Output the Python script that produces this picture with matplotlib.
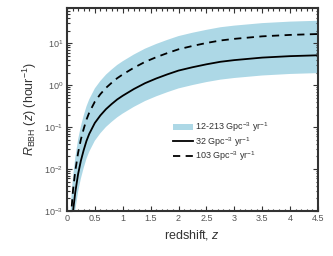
import numpy as np
import matplotlib
matplotlib.use("Agg")
import matplotlib.pyplot as plt
from matplotlib.ticker import LogLocator, MultipleLocator, NullFormatter

plt.rcParams['font.family'] = ['Liberation Sans', 'DejaVu Sans']
plt.rcParams['mathtext.fontset'] = 'custom'
plt.rcParams['mathtext.rm'] = 'Liberation Sans'
plt.rcParams['mathtext.it'] = 'Liberation Sans:italic'

# redshift samples and merger rates (hour^-1)
z = [0.05, 0.08, 0.11, 0.15, 0.2, 0.25, 0.3, 0.35, 0.4, 0.5, 0.6, 0.7, 0.8, 0.9,
     1.0, 1.2, 1.4, 1.6, 1.8, 2.0, 2.25, 2.5, 2.75, 3.0, 3.5, 4.0, 4.5]
rate_32 = [5.0e-5, 3.16e-4, 1.0e-3, 2.82e-3, 7.59e-3, 1.58e-2, 2.82e-2, 4.68e-2, 6.92e-2,
           0.126, 0.191, 0.269, 0.355, 0.457, 0.562, 0.813, 1.12, 1.45, 1.82, 2.24,
           2.69, 3.16, 3.63, 3.98, 4.57, 4.95, 5.19]
rate_103 = [1.6e-4, 1.02e-3, 3.22e-3, 9.08e-3, 2.44e-2, 5.09e-2, 9.08e-2, 0.151, 0.223,
            0.406, 0.615, 0.866, 1.14, 1.47, 1.81, 2.62, 3.61, 4.67, 5.86, 7.21,
            8.66, 10.2, 11.7, 12.8, 14.7, 15.9, 16.7]
rate_213 = [3.3e-4, 2.1e-3, 6.66e-3, 1.88e-2, 5.05e-2, 0.105, 0.188, 0.312, 0.461,
            0.839, 1.27, 1.79, 2.36, 3.04, 3.74, 5.41, 7.46, 9.66, 12.1, 14.9,
            17.9, 21.0, 24.2, 26.5, 30.4, 33.0, 34.6]
rate_12 = [1.9e-5, 1.19e-4, 3.75e-4, 1.06e-3, 2.85e-3, 5.93e-3, 1.06e-2, 1.76e-2, 2.6e-2,
           4.73e-2, 7.16e-2, 0.101, 0.133, 0.171, 0.211, 0.305, 0.42, 0.544, 0.683, 0.84,
           1.01, 1.19, 1.36, 1.49, 1.71, 1.86, 1.95]

labels = ['12-213 Gpc$^{-3}$ yr$^{-1}$', '32 Gpc$^{-3}$ yr$^{-1}$', '103 Gpc$^{-3}$ yr$^{-1}$']
xticklabels = ['0', '0.5', '1', '1.5', '2', '2.5', '3', '3.5', '4', '4.5']

fig = plt.figure(figsize=(3.33, 2.56), dpi=100)
ax = fig.add_axes([0.201, 0.176, 0.754, 0.793])

ax.fill_between(z, rate_12, rate_213, color='lightblue', lw=0, label=labels[0])
ax.plot(z, rate_32, color='black', lw=1.3, label=labels[1])
ax.plot(z, rate_103, color='black', lw=1.3, ls=(0, (4, 3)), label=labels[2])

ax.set_yscale('log')
ax.set_xlim(0, 4.5)
ax.set_ylim(1e-3, 70)
ax.xaxis.set_minor_locator(MultipleLocator(0.1))
ax.set_xticks(np.arange(0, 4.51, 0.5))
ax.set_xticklabels(xticklabels)
ax.yaxis.set_major_locator(LogLocator(base=10, numticks=10))
ax.yaxis.set_minor_locator(LogLocator(base=10, subs=np.arange(2, 10), numticks=20))
ax.yaxis.set_minor_formatter(NullFormatter())

ax.tick_params(which='both', direction='in', top=True, right=True,
               labelsize=6.5, labelcolor='#555555', color='#333333', width=0.8, pad=2.5)
ax.tick_params(which='major', length=3.5)
ax.tick_params(which='minor', length=1.8)
for s in ax.spines.values():
    s.set_linewidth(1.5)
    s.set_color('#333333')

ax.set_xlabel('redshift, $z$', fontsize=9, color='#333333', labelpad=3)
ax.set_ylabel(r'$R_{\rm BBH}$ ($z$) (hour$^{-1}$)', fontsize=9, color='#333333', labelpad=4)

leg = ax.legend(loc='upper left', bbox_to_anchor=(0.41, 0.465), frameon=False, fontsize=6.5,
                handlelength=2.2, handletextpad=0.2, labelspacing=0.12, borderaxespad=0)
for t in leg.get_texts():
    t.set_color('#333333')

fig.savefig('out.png', dpi=100)
